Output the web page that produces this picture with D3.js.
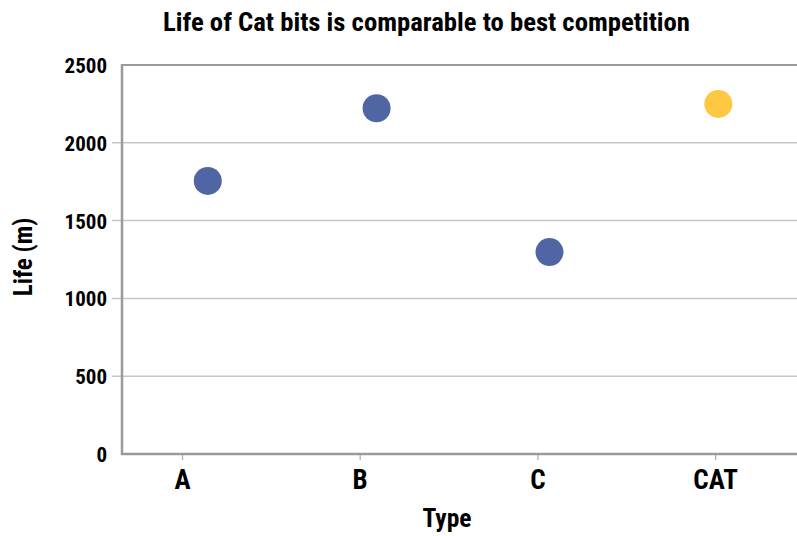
<!DOCTYPE html>
<html><head><meta charset="utf-8">
<script src="https://cdn.jsdelivr.net/npm/d3@7"></script>
<style>
body{margin:0;background:#fff;}
text{font-family:"Liberation Sans Narrow","Roboto Condensed","DejaVu Sans Condensed",sans-serif;font-weight:bold;fill:#000;}
</style></head>
<body><svg id="c" width="797" height="536"></svg>
<script>
const categories = ["A","B","C","CAT"];
const lifeValues = [1755, 2222, 1298, 2250];
const jitter = [0.145, 0.095, 0.068, 0.018];
const highlight = ["CAT"];
const yTicks = [0,500,1000,1500,2000,2500];
const title = "Life of Cat bits is comparable to best competition";
const xTitle = "Type", yTitle = "Life (m)";

const svg = d3.select("#c");
const pLeft = 122, pTop = 65, pBottom = 454, pRight = 840;
const step = 177.7;
const x = d3.scalePoint().domain(categories).range([pLeft+60, pLeft+60+step*(categories.length-1)]);
const y = d3.scaleLinear().domain([0,2500]).range([pBottom, pTop]);

// gridlines
svg.append("g").selectAll("line").data(yTicks.filter(t=>t>0 && t<2500)).join("line")
  .attr("x1", pLeft-10).attr("x2", pRight).attr("y1", d=>y(d)).attr("y2", d=>y(d))
  .attr("stroke","#c6c6c6").attr("stroke-width",1.5);
// frame top
svg.append("line").attr("x1",pLeft).attr("x2",pRight).attr("y1",y(2500)).attr("y2",y(2500))
  .attr("stroke","#9a9a9a").attr("stroke-width",2);
// axes
const ya = svg.append("g").attr("transform",`translate(${pLeft},0)`)
  .call(d3.axisLeft(y).tickValues(yTicks).tickFormat(d3.format("d")).tickSize(0).tickPadding(15));
ya.select(".domain").remove();
ya.selectAll("text").style("font-size","21px").attr("dy","0.36em");
svg.append("line").attr("x1",pLeft).attr("x2",pLeft).attr("y1",pTop-1).attr("y2",pBottom+1)
  .attr("stroke","#9a9a9a").attr("stroke-width",2.5);

const xa = svg.append("g").attr("transform",`translate(0,${pBottom})`)
  .call(d3.axisBottom(x).tickSize(6).tickPadding(10));
xa.select(".domain").remove();
xa.selectAll(".tick line").attr("stroke","#aaa").attr("stroke-width",1.2);
xa.selectAll("text").style("font-size","27px").attr("dy","0.71em");
svg.append("line").attr("x1",pLeft-1).attr("x2",pRight).attr("y1",pBottom).attr("y2",pBottom)
  .attr("stroke","#9a9a9a").attr("stroke-width",2.5);

// points
svg.append("g").selectAll("circle").data(categories).join("circle")
  .attr("cx",(d,i)=>x(d)+jitter[i]*step)
  .attr("cy",(d,i)=>y(lifeValues[i]))
  .attr("r",14)
  .attr("fill",d=>highlight.includes(d)?"#ffc843":"#5066a4");

// titles
svg.append("text").attr("x",426.5).attr("y",31).attr("text-anchor","middle")
  .attr("textLength",527).attr("lengthAdjust","spacingAndGlyphs")
  .style("font-size","25px").text(title);
svg.append("text").attr("x",447).attr("y",527).attr("text-anchor","middle")
  .style("font-size","25.5px").text(xTitle);
svg.append("text").attr("transform","translate(32,257) rotate(-90)").attr("text-anchor","middle")
  .style("font-size","25px").text(yTitle);
</script></body></html>
